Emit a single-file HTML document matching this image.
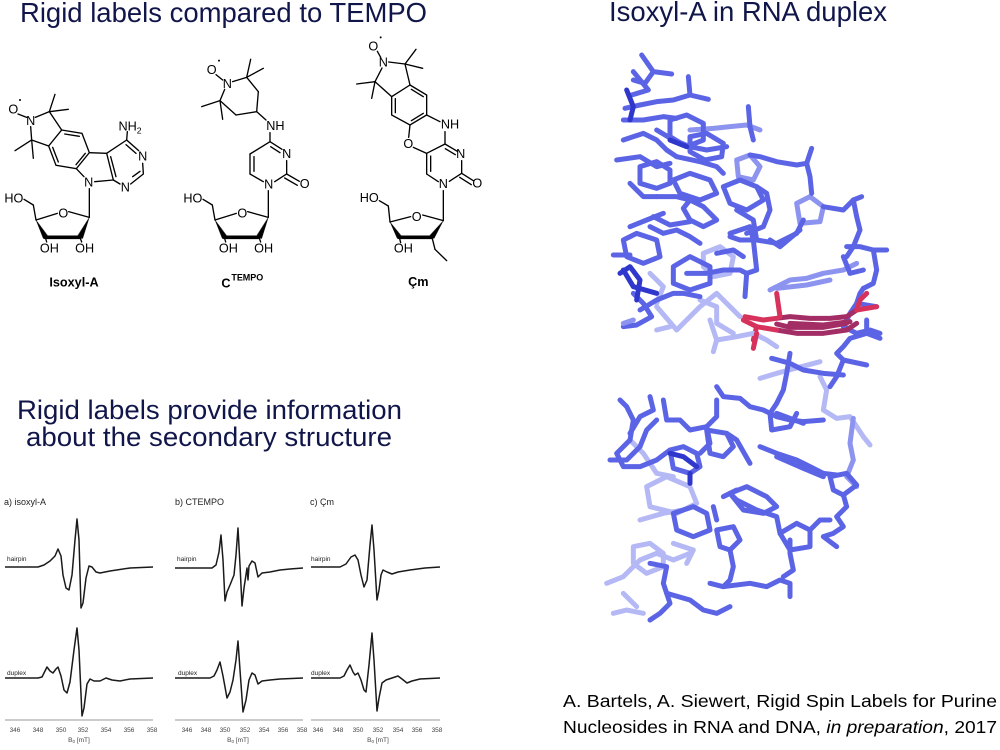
<!DOCTYPE html>
<html><head><meta charset="utf-8">
<style>
html,body{margin:0;padding:0;background:#fff;}
svg{display:block;}
.t{font-family:"Liberation Sans",Arial,sans-serif;fill:#11164a;}
.c{font-family:"Liberation Sans",Arial,sans-serif;fill:#000;}
.ch line,.ch polyline,.ch polygon{stroke:#000;stroke-width:4;fill:none;stroke-linecap:round;}
.ch polygon.w{fill:#000;stroke-width:1;}
.ch text{font-family:"Liberation Sans",Arial,sans-serif;font-size:38px;fill:#000;text-anchor:middle;}
.epr polyline{fill:none;stroke:#1a1a1a;stroke-width:1.5;stroke-linejoin:round;}
.epr text{font-family:"Liberation Sans",Arial,sans-serif;fill:#222;}
.ax text{font-size:6.5px;text-anchor:middle;fill:#444;}
.rna polyline,.rna polygon{fill:none;stroke-linecap:round;stroke-linejoin:round;stroke-width:15;}
.p polyline,.p polygon{stroke:#b4b9f5;}
.q polyline,.q polygon{stroke:#8d94ef;}
.m polyline,.m polygon{stroke:#5c64e6;}
.d polyline,.d polygon{stroke:#2f37cc;}
.r polyline{stroke:#d6325c;}
.pu polyline{stroke:#a32e66;}
</style></head>
<body>
<svg width="1000" height="750" viewBox="0 0 1000 750" xmlns="http://www.w3.org/2000/svg">
<rect width="1000" height="750" fill="#fff"/>

<!-- Titles -->
<text class="t" x="20" y="22" font-size="28" textLength="407" lengthAdjust="spacingAndGlyphs">Rigid labels compared to TEMPO</text>
<text class="t" x="609" y="21" font-size="28" textLength="278" lengthAdjust="spacingAndGlyphs">Isoxyl-A in RNA duplex</text>
<text class="t" x="17" y="419" font-size="27" textLength="385" lengthAdjust="spacingAndGlyphs">Rigid labels provide information</text>
<text class="t" x="26" y="446" font-size="27" textLength="366" lengthAdjust="spacingAndGlyphs">about the secondary structure</text>
<text class="c" x="563" y="707" font-size="17.5" textLength="434" lengthAdjust="spacingAndGlyphs">A. Bartels, A. Siewert, Rigid Spin Labels for Purine</text>
<text class="c" x="563" y="733" font-size="17.5" textLength="434" lengthAdjust="spacingAndGlyphs">Nucleosides in RNA and DNA, <tspan font-style="italic">in preparation</tspan>, 2017</text>

<!-- ============ Chemistry ============ -->
<g class="ch" transform="scale(0.33333)">
  <!-- Isoxyl-A -->
  <text x="40" y="341">O</text><circle cx="60" cy="300" r="3" fill="#000"/>
  <text x="92" y="375">N</text>
  <line x1="54" y1="342" x2="80" y2="352"/>
  <line x1="106" y1="352" x2="148" y2="335"/>
  <line x1="148" y1="335" x2="165" y2="283"/>
  <line x1="148" y1="335" x2="205" y2="328"/>
  <line x1="148" y1="335" x2="185" y2="390"/>
  <line x1="92" y1="380" x2="95" y2="420"/>
  <line x1="95" y1="420" x2="45" y2="452"/>
  <line x1="95" y1="420" x2="100" y2="475"/>
  <line x1="95" y1="420" x2="146" y2="438"/>
  <polygon points="185,390 246,400 268,458 229,506 168,496 146,438"/>
  <line x1="194" y1="402" x2="238" y2="409"/>
  <line x1="158" y1="442" x2="175" y2="486"/>
  <line x1="256" y1="460" x2="228" y2="494"/>
  <line x1="268" y1="458" x2="320" y2="460"/>
  <line x1="320" y1="460" x2="340" y2="540"/>
  <line x1="332" y1="470" x2="348" y2="530"/>
  <line x1="340" y1="540" x2="284" y2="545"/>
  <line x1="252" y1="530" x2="229" y2="506"/>
  <text x="266" y="560">N</text>
  <line x1="320" y1="460" x2="380" y2="420"/>
  <line x1="380" y1="420" x2="416" y2="452"/>
  <line x1="378" y1="434" x2="408" y2="460"/>
  <text x="428" y="482">N</text>
  <line x1="428" y1="490" x2="430" y2="520"/>
  <line x1="430" y1="522" x2="392" y2="552"/>
  <line x1="420" y1="514" x2="398" y2="530"/>
  <text x="376" y="574">N</text>
  <line x1="360" y1="552" x2="340" y2="540"/>
  <line x1="380" y1="420" x2="382" y2="395"/>
  <text x="390" y="392">NH<tspan font-size="26" dy="8">2</tspan></text>
  <line x1="268" y1="566" x2="268" y2="652"/>
  <g transform="translate(268,652)">
    <line x1="0" y1="0" x2="-62" y2="-17"/><text x="-78" y="1">O</text>
    <line x1="-96" y1="-12" x2="-160" y2="8"/>
    <polygon class="w" points="-160,8 -138,64 -126,54"/>
    <line x1="-132" y1="60" x2="-28" y2="60" style="stroke-width:11"/>
    <polygon class="w" points="-34,54 -20,64 0,0"/>
    <line x1="-132" y1="60" x2="-128" y2="74"/><text x="-120" y="106">OH</text>
    <line x1="-28" y1="60" x2="-23" y2="74"/><text x="-14" y="106">OH</text>
    <line x1="-160" y1="8" x2="-168" y2="-37"/><line x1="-168" y1="-37" x2="-196" y2="-54"/>
    <text x="-198" y="-45" style="text-anchor:end">HO</text>
  </g>
  <text x="222" y="860" style="font-weight:bold;font-size:38px">Isoxyl-A</text>

  <!-- C TEMPO -->
  <text x="635" y="222">O</text><circle cx="657" cy="182" r="3" fill="#000"/>
  <text x="682" y="264">N</text>
  <line x1="648" y1="224" x2="668" y2="240"/>
  <line x1="698" y1="245" x2="740" y2="232"/>
  <line x1="740" y1="232" x2="752" y2="178"/>
  <line x1="740" y1="232" x2="790" y2="205"/>
  <line x1="740" y1="232" x2="775" y2="275"/>
  <line x1="775" y1="275" x2="770" y2="335"/>
  <line x1="770" y1="335" x2="708" y2="345"/>
  <line x1="708" y1="345" x2="660" y2="302"/>
  <line x1="660" y1="302" x2="674" y2="268"/>
  <line x1="660" y1="302" x2="605" y2="320"/>
  <line x1="660" y1="302" x2="668" y2="358"/>
  <line x1="770" y1="335" x2="798" y2="360"/>
  <text x="826" y="390">NH</text>
  <line x1="810" y1="398" x2="810" y2="425"/>
  <line x1="810" y1="425" x2="846" y2="448"/>
  <line x1="812" y1="440" x2="840" y2="458"/>
  <text x="860" y="474">N</text>
  <line x1="860" y1="482" x2="860" y2="522"/>
  <line x1="860" y1="522" x2="898" y2="544"/>
  <line x1="854" y1="534" x2="892" y2="556"/>
  <text x="914" y="564">O</text>
  <line x1="860" y1="522" x2="824" y2="545"/>
  <text x="806" y="565">N</text>
  <line x1="790" y1="545" x2="750" y2="522"/>
  <line x1="750" y1="522" x2="750" y2="462"/>
  <line x1="762" y1="514" x2="762" y2="470"/>
  <line x1="750" y1="462" x2="810" y2="425"/>
  <line x1="805" y1="572" x2="805" y2="652"/>
  <g transform="translate(805,652)">
    <line x1="0" y1="0" x2="-62" y2="-17"/><text x="-78" y="1">O</text>
    <line x1="-96" y1="-12" x2="-160" y2="8"/>
    <polygon class="w" points="-160,8 -138,64 -126,54"/>
    <line x1="-132" y1="60" x2="-28" y2="60" style="stroke-width:11"/>
    <polygon class="w" points="-34,54 -20,64 0,0"/>
    <line x1="-132" y1="60" x2="-128" y2="74"/><text x="-120" y="106">OH</text>
    <line x1="-28" y1="60" x2="-23" y2="74"/><text x="-14" y="106">OH</text>
    <line x1="-160" y1="8" x2="-168" y2="-37"/><line x1="-168" y1="-37" x2="-196" y2="-54"/>
    <text x="-198" y="-45" style="text-anchor:end">HO</text>
  </g>
  <text x="678" y="862" style="font-weight:bold;font-size:38px">C</text>
  <text x="694" y="842" style="font-weight:bold;font-size:27px;text-anchor:start">TEMPO</text>
</g>

<!-- Cm -->
<g class="ch" transform="translate(330,0) scale(0.33333)">
  <text x="130" y="152">O</text><circle cx="152" cy="112" r="3" fill="#000"/>
  <text x="160" y="200">N</text>
  <line x1="142" y1="154" x2="152" y2="172"/>
  <line x1="176" y1="186" x2="225" y2="192"/>
  <line x1="225" y1="192" x2="258" y2="148"/>
  <line x1="225" y1="192" x2="278" y2="205"/>
  <line x1="225" y1="192" x2="240" y2="255"/>
  <line x1="156" y1="204" x2="135" y2="245"/>
  <line x1="135" y1="245" x2="80" y2="252"/>
  <line x1="135" y1="245" x2="125" y2="295"/>
  <line x1="135" y1="245" x2="185" y2="290"/>
  <polygon points="240,255 290,285 290,345 240,375 185,345 185,290"/>
  <line x1="244" y1="268" x2="280" y2="290"/>
  <line x1="196" y1="296" x2="196" y2="338"/>
  <line x1="280" y1="340" x2="244" y2="362"/>
  <line x1="290" y1="345" x2="330" y2="365"/>
  <text x="360" y="386">NH</text>
  <line x1="240" y1="375" x2="236" y2="412"/>
  <text x="235" y="444">O</text>
  <line x1="250" y1="442" x2="290" y2="460"/>
  <line x1="345" y1="395" x2="345" y2="432"/>
  <line x1="345" y1="432" x2="382" y2="454"/>
  <line x1="346" y1="446" x2="376" y2="464"/>
  <text x="392" y="474">N</text>
  <line x1="395" y1="482" x2="395" y2="520"/>
  <line x1="395" y1="520" x2="430" y2="542"/>
  <line x1="389" y1="532" x2="424" y2="554"/>
  <text x="442" y="562">O</text>
  <line x1="395" y1="520" x2="358" y2="544"/>
  <text x="340" y="564">N</text>
  <line x1="325" y1="545" x2="290" y2="522"/>
  <line x1="290" y1="522" x2="290" y2="460"/>
  <line x1="302" y1="514" x2="302" y2="468"/>
  <line x1="290" y1="460" x2="345" y2="432"/>
  <line x1="340" y1="572" x2="340" y2="662"/>
  <g transform="translate(340,662)">
    <line x1="0" y1="0" x2="-62" y2="-17"/><text x="-80" y="1">O</text>
    <line x1="-98" y1="-12" x2="-160" y2="4"/>
    <polygon class="w" points="-160,4 -138,54 -126,46"/>
    <line x1="-132" y1="50" x2="-36" y2="50" style="stroke-width:11"/>
    <polygon class="w" points="-40,44 -28,54 0,0"/>
    <line x1="-132" y1="50" x2="-128" y2="66"/><text x="-120" y="96">OH</text>
    <line x1="-34" y1="50" x2="-25" y2="86"/><line x1="-25" y1="86" x2="10" y2="120"/>
    <line x1="-160" y1="4" x2="-165" y2="-44"/><line x1="-165" y1="-44" x2="-192" y2="-60"/>
    <text x="-194" y="-56" style="text-anchor:end">HO</text>
  </g>
  <text x="265" y="858" style="font-weight:bold;font-size:38px">Çm</text>
</g>

<!-- ============ EPR spectra ============ -->
<g class="epr">
  <text x="4" y="505" font-size="9">a) isoxyl-A</text>
  <text x="175" y="505" font-size="9">b) CTEMPO</text>
  <text x="310" y="505" font-size="9">c) Çm</text>
  <text x="7" y="561" font-size="6.5">hairpin</text>
  <text x="7" y="675" font-size="6.5">duplex</text>
  <text x="177" y="561" font-size="6.5">hairpin</text>
  <text x="178" y="675" font-size="6.5">duplex</text>
  <text x="311" y="561" font-size="6.5">hairpin</text>
  <text x="311" y="675" font-size="6.5">duplex</text>

  <polyline points="5,567 38,567 44,565 50,561 55,556 58,549 61,556 63,575 66,588 69,590 72,575 75,540 77,519 79,540 81,608 83,603 86,578 89,566 92,567 96,572 100,573 110,571 130,568 153,567"/>
  <polyline points="5,678 38,678 42,677 45,671 47,667 50,671 53,673 56,669 58,667 61,676 64,690 67,693 70,682 74,650 77,628 79,650 82,716 84,708 87,684 90,679 94,681 100,681 106,678 112,680 120,681 130,679 153,678"/>
  <polyline points="175,568 212,568 216,565 219,552 221,535 223,560 225,601 227,592 230,585 234,575 236,555 238,528 240,565 242,606 244,588 247,568 248,580 249,566 252,561 255,563 258,577 262,573 270,572 280,570 290,569 303,568"/>
  <polyline points="175,678 210,678 214,676 217,670 220,662 223,676 227,698 230,692 233,680 236,660 238,641 240,670 243,712 246,700 249,680 252,673 255,675 258,684 262,681 270,680 280,679 303,678"/>
  <polyline points="311,567 340,567 346,564 351,557 355,555 358,560 361,575 364,587 367,580 370,545 372,525 374,550 377,600 379,590 381,575 383,570 387,572 392,574 398,572 410,570 425,568 440,567"/>
  <polyline points="311,678 340,678 344,676 347,670 350,665 353,672 355,675 358,673 361,680 364,690 366,692 369,665 372,633 374,660 377,711 379,698 382,683 386,680 392,678 398,676 402,679 407,683 412,681 420,679 440,678"/>

  <g class="ax">
    <line x1="5" y1="720" x2="153" y2="720" stroke="#777" stroke-width="0.8"/>
    <line x1="175" y1="720" x2="303" y2="720" stroke="#777" stroke-width="0.8"/>
    <line x1="311" y1="720" x2="440" y2="720" stroke="#777" stroke-width="0.8"/>
    <text x="15" y="732">346</text><text x="38" y="732">348</text><text x="61" y="732">350</text><text x="83" y="732">352</text><text x="106" y="732">354</text><text x="129" y="732">356</text><text x="152" y="732">358</text>
    <text x="187" y="732">346</text><text x="206" y="732">348</text><text x="225" y="732">350</text><text x="245" y="732">352</text><text x="264" y="732">354</text><text x="283" y="732">356</text><text x="302" y="732">358</text>
    <text x="318" y="732">346</text><text x="338" y="732">348</text><text x="358" y="732">350</text><text x="378" y="732">352</text><text x="398" y="732">354</text><text x="417" y="732">356</text><text x="437" y="732">358</text>
    <text x="79" y="742">B<tspan font-size="4.5" dy="1">0</tspan><tspan dy="-1"> [mT]</tspan></text>
    <text x="238" y="742">B<tspan font-size="4.5" dy="1">0</tspan><tspan dy="-1"> [mT]</tspan></text>
    <text x="378" y="742">B<tspan font-size="4.5" dy="1">0</tspan><tspan dy="-1"> [mT]</tspan></text>
  </g>
</g>

<!-- ============ RNA upper half (origin 590,40) ============ -->
<g class="rna" transform="translate(590,40) scale(0.33333)">
 <g class="p">
  <polygon points="340,640 390,620 430,650 420,700 370,710 340,680"/>
  <polyline points="200,800 260,870 330,800 380,760 420,800 450,830"/>
  <polyline points="180,700 220,740 200,790"/>
  <polyline points="330,780 380,800 380,850 430,880"/>
 </g>
 <g class="q">
  <polyline points="300,270 370,265 420,260 470,255 510,270"/>
  <polygon points="440,360 480,345 510,380 490,420 445,410"/>
  <polygon points="620,490 660,470 700,500 690,545 630,550"/>
  <polyline points="540,750 600,720 650,715 700,700 760,690 800,670"/>
  <polyline points="560,745 650,735 720,720"/>
 </g>
 <g class="m">
  <polyline points="155,45 190,95 245,102"/>
  <polyline points="190,95 165,130 130,120"/>
  <polyline points="130,95 175,150 125,165"/>
  <polyline points="295,110 300,165 355,178"/>
  <polyline points="300,165 250,180 200,185 150,195 105,205"/>
  <polyline points="100,240 160,240 220,230 260,235"/>
  <polygon points="240,240 290,225 340,250 340,300 290,320 240,290"/>
  <polygon points="300,290 350,280 400,310 395,350 345,360 300,335"/>
  <polyline points="200,270 250,300 300,320 350,330 410,320"/>
  <polyline points="260,350 330,365 380,380 400,400"/>
  <polygon points="250,420 300,400 360,420 380,460 330,480 270,460"/>
  <polyline points="200,470 260,470 300,480"/>
  <polygon points="300,480 340,500 380,540 340,560 300,540 280,505"/>
  <polyline points="190,530 240,555 300,545"/>
  <polygon points="100,600 140,580 200,600 210,650 160,670 110,650"/>
  <polyline points="70,645 120,645"/>
  <polyline points="130,760 160,790 185,830 140,855 100,860"/>
  <polyline points="150,810 200,780 250,760 280,760 330,770"/>
  <polygon points="250,680 300,650 360,680 360,730 300,750 250,730"/>
  <polyline points="290,700 350,700 400,690 450,690 470,700 465,770"/>
  <polyline points="470,700 500,690 490,600 480,560 420,580"/>
  <polyline points="475,200 480,260 490,300"/>
  <polyline points="480,345 510,350 560,365 620,375 650,370 665,325"/>
  <polyline points="650,370 660,410 665,460"/>
  <polyline points="700,500 760,510 790,480 815,470"/>
  <polyline points="790,480 800,530 810,570 790,620 770,650"/>
  <polygon points="400,440 450,420 500,440 520,480 470,510 420,490"/>
  <polyline points="500,440 530,460 540,510 520,560 470,580"/>
  <polyline points="420,590 450,600 500,600 560,610 620,580 640,540"/>
  <polyline points="440,510 490,540 500,600"/>
  <polyline points="540,600 570,620 630,570"/>
  <polyline points="770,620 810,620 850,630 890,630"/>
  <polyline points="850,630 860,690 850,730 820,745"/>
  <polyline points="760,650 780,700 820,690"/>
  <polyline points="820,745 810,760 800,790 780,820 760,860 800,880 840,870 870,880"/>
  <polyline points="800,790 860,800"/>
  <polyline points="100,300 160,280 200,300 230,330 260,350"/>
  <polyline points="80,360 150,350 200,380 240,370"/>
  <polygon points="150,380 200,365 240,390 240,430 200,445 150,430"/>
  <polyline points="120,430 160,470 200,470"/>
  <polyline points="180,560 220,580 260,570 300,590 330,610"/>
  <polyline points="120,560 170,540 220,520"/>
  <polyline points="380,640 430,630 460,650"/>
 </g>
 <g class="d">
  <polyline points="110,150 130,200 120,240"/>
  <polyline points="100,690 130,740 200,760"/>
  <polyline points="90,700 120,680 150,720 140,780"/>
  <polyline points="240,300 290,320"/>
 </g>
 <g class="pu">
  <polyline points="560,835 600,830 660,835 720,835 770,830 800,810"/>
  <polyline points="560,852 600,862 700,862 770,850"/>
 </g>
 <g class="r">
  <polyline points="465,830 520,840 560,835"/>
  <polyline points="560,760 570,830"/>
  <polyline points="800,810 810,780 830,760"/>
  <polyline points="800,810 860,800"/>
  <polyline points="500,860 490,900"/>
 </g>
</g>

<!-- ============ RNA lower half (origin 590,320) ============ -->
<g class="rna" transform="translate(590,320) scale(0.33333)">
 <g class="p">
  <polyline points="360,0 380,60 370,95"/>
  <polyline points="380,60 440,50 490,40 530,60 560,80"/>
  <polyline points="510,175 560,160 690,125"/>
  <polyline points="690,170 710,210 700,270 740,295 780,290 800,320 820,350 840,375"/>
  <polyline points="200,30 240,20"/>
  <polygon points="170,500 230,470 300,500 320,550 260,580 180,560"/>
  <polyline points="150,600 220,580 280,570"/>
  <polyline points="50,790 100,770 150,720 200,700 250,720 300,700"/>
  <polyline points="70,880 110,870 160,880"/>
  <polyline points="100,820 140,860"/>
  <polygon points="130,680 180,670 220,700 220,740 170,760 130,730"/>
  <polyline points="250,670 310,690 290,730"/>
  <polyline points="120,360 160,400 200,460 250,470"/>
 </g>
 <g class="q">
  <polyline points="790,295 780,370 790,420 770,470 800,500"/>
  <polyline points="100,10 130,0"/>
 </g>
 <g class="m">
  <polyline points="830,0 830,40 870,55"/>
  <polyline points="830,40 780,55 760,80 740,100 760,120 830,135"/>
  <polyline points="760,120 740,170 720,200"/>
  <polyline points="545,115 600,130 640,150 700,160 760,165"/>
  <polyline points="600,100 590,160 580,210 560,250"/>
  <polyline points="380,200 400,230 450,235 480,260 520,270 560,290 600,300 640,305 700,300"/>
  <polyline points="560,250 540,280 545,330 600,320 620,280"/>
  <polyline points="560,280 640,310"/>
  <polyline points="510,380 560,400 620,420 660,440 700,460 740,465"/>
  <polyline points="560,410 640,445 700,470"/>
  <polygon points="720,470 770,460 800,495 760,525 730,510"/>
  <polyline points="760,525 770,560 740,590 760,620 730,640 700,650 740,680"/>
  <polyline points="90,240 110,260 130,300 120,360 80,400 100,440 150,440 200,420 240,390"/>
  <polygon points="240,390 280,380 320,400 330,440 300,460 250,445"/>
  <polyline points="220,240 230,300 270,300 300,330 350,320 360,370 330,400"/>
  <polyline points="180,230 190,270 150,290 120,340"/>
  <polyline points="350,320 380,290 380,240"/>
  <polygon points="350,330 410,340 430,380 400,410 360,400"/>
  <polyline points="410,340 440,360 480,430"/>
  <polygon points="250,580 310,560 350,580 360,630 310,650 260,630"/>
  <polyline points="370,560 380,600"/>
  <polygon points="380,630 430,620 450,660 420,690 390,680"/>
  <polyline points="420,690 430,740 420,780 400,800 360,790"/>
  <polyline points="400,800 480,790 530,800 570,780 600,790 600,830"/>
  <polyline points="580,770 610,750 600,700 600,660"/>
  <polygon points="570,640 620,610 660,630 660,680 600,690"/>
  <polyline points="660,630 690,600 720,600"/>
  <polyline points="570,640 560,590 500,570 440,540 420,520"/>
  <polygon points="420,520 470,500 530,530 560,560 520,580 460,570"/>
  <polyline points="400,530 440,510"/>
  <polyline points="180,730 230,740 220,790 240,850 210,880 180,900"/>
  <polyline points="230,820 300,840 340,870 380,880 420,860"/>
  <polyline points="200,300 170,330 150,380 110,420 60,420"/>
 </g>
 <g class="d">
  <polyline points="240,400 280,410 320,440"/>
  <polyline points="300,460 300,490"/>
 </g>
 <g class="pu">
  <polyline points="560,30 620,40 700,40 770,30 800,10"/>
  <polyline points="600,10 700,15 780,5"/>
 </g>
 <g class="r">
  <polyline points="460,0 500,20 560,30"/>
  <polyline points="500,40 490,85"/>
 </g>
</g>
</svg>
</body></html>
